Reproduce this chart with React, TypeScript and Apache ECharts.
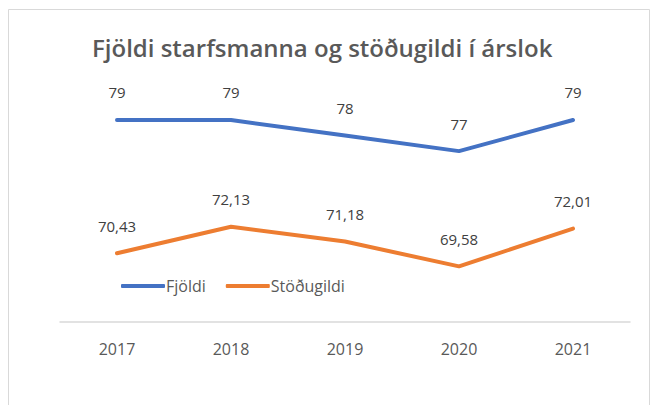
import React, { useEffect, useRef } from "react";
import * as echarts from "echarts";

const categories = ["2017", "2018", "2019", "2020", "2021"];
const fjoldi = [79, 79, 78, 77, 79];
const stodugildi = [70.43, 72.13, 71.18, 69.58, 72.01];
const titleText = "Fjöldi starfsmanna og stöðugildi í árslok";

const fmt = (v: number) =>
  Number.isInteger(v) ? String(v) : v.toFixed(2).replace(".", ",");

export default function App() {
  const ref = useRef<HTMLDivElement>(null);
  useEffect(() => {
    if (!ref.current) return;
    const chart = echarts.init(ref.current, undefined, { renderer: "svg" });
    const font = "Open Sans, Noto Sans, sans-serif";
    const labelStyle = {
      show: true,
      position: "top",
      distance: 20,
      formatter: (p: any) => fmt(p.value),
      fontFamily: font,
      fontSize: 15,
      color: "#404040",
    };
    chart.setOption({
      animation: false,
      backgroundColor: "#ffffff",
      title: {
        text: titleText,
        left: 87,
        top: 30,
        textStyle: { fontFamily: font, fontSize: 24, fontWeight: 600, color: "#595959" },
      },
      graphic: [
        {
          type: "rect",
          shape: { x: 8.5, y: 9.5, width: 641, height: 420 },
          style: { fill: "none", stroke: "#d9d9d9", lineWidth: 1 },
          silent: true,
        },
      ],
      legend: {
        left: 116,
        top: 273,
        itemWidth: 44,
        itemHeight: 4,
        itemGap: 20,
        textStyle: { fontFamily: font, fontSize: 16, color: "#595959", padding: [0, 0, 0, -4] },
        data: [
          { name: "Fjöldi", icon: "roundRect" },
          { name: "Stöðugildi", icon: "roundRect" },
        ],
      },
      grid: { left: 60, width: 570, top: 104.5, height: 217.5 },
      xAxis: {
        type: "category",
        data: categories,
        boundaryGap: true,
        axisLine: { lineStyle: { color: "#d9d9d9", width: 1.5 } },
        axisTick: { show: false },
        axisLabel: { fontFamily: font, fontSize: 16, color: "#595959", margin: 19 },
      },
      yAxis: {
        type: "value",
        min: 66,
        max: 80,
        show: false,
        splitLine: { show: false },
      },
      series: [
        {
          name: "Fjöldi",
          type: "line",
          data: fjoldi,
          showSymbol: true,
          symbol: "circle",
          symbolSize: 0.1,
          lineStyle: { color: "#4472C4", width: 4, cap: "round" },
          itemStyle: { color: "#4472C4" },
          label: labelStyle,
        },
        {
          name: "Stöðugildi",
          type: "line",
          data: stodugildi,
          showSymbol: true,
          symbol: "circle",
          symbolSize: 0.1,
          lineStyle: { color: "#ED7D31", width: 4, cap: "round" },
          itemStyle: { color: "#ED7D31" },
          label: labelStyle,
        },
      ],
    });
    return () => chart.dispose();
  }, []);
  return (
    <div
      ref={ref}
      style={{ position: "fixed", left: 0, top: 0, width: 653, height: 405 }}
    />
  );
}
